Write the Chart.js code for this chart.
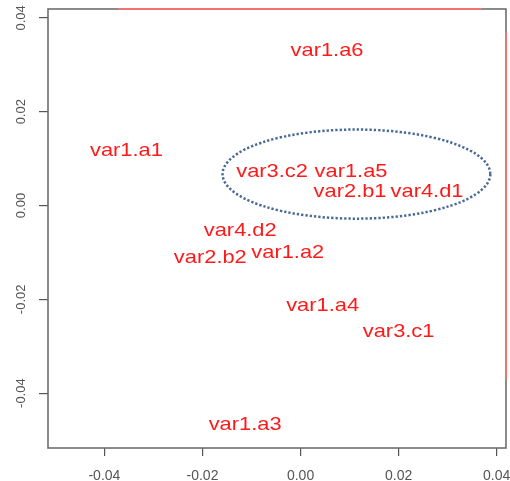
<!DOCTYPE html>
<html>
<head>
<meta charset="utf-8">
<script src="https://cdn.jsdelivr.net/npm/chart.js@4/dist/chart.umd.min.js"></script>
<style>
  html, body { margin: 0; padding: 0; background: #fff; }
  canvas { display: block; }
</style>
</head>
<body>
<canvas id="chart" width="510" height="481"></canvas>
<script>
// points (text labels placed at each coordinate)
const labels = ["var1.a6", "var1.a1", "var3.c2", "var1.a5", "var2.b1", "var4.d1",
                "var4.d2", "var2.b2", "var1.a2", "var1.a4", "var3.c1", "var1.a3"];
const xVals = [0.0054, -0.0355, -0.0058, 0.0103, 0.0101, 0.0258,
               -0.0123, -0.0184, -0.0026, 0.0045, 0.0200, -0.0113];
const yVals = [0.0332, 0.0118, 0.0074, 0.0074, 0.0031, 0.0031,
               -0.0052, -0.0109, -0.0098, -0.0212, -0.0266, -0.0466];

// axis ranges and ticks
const xRange = [-0.0515, 0.0419];
const yRange = [-0.0517, 0.0419];
const xTicks = [-0.04, -0.02, 0.00, 0.02, 0.04];
const yTicks = [-0.04, -0.02, 0.00, 0.02, 0.04];

// red segments along the top and right edges
const topLineX = [-0.0372, 0.0370];
const rightLineY = [0.0369, -0.0371];

// dotted ellipse: centre x, centre y, radius x, radius y
const ellipse = [0.0114, 0.0067, 0.0273, 0.0095];

const FONT = "'Liberation Sans', Arial, sans-serif";

const points = xVals.map((x, i) => ({ x, y: yVals[i] }));

// grey frame round the plot area
const boxPlugin = {
  id: "box",
  beforeDatasetsDraw(chart) {
    const { ctx, chartArea: a } = chart;
    ctx.save();
    ctx.strokeStyle = "#6e6e6e";
    ctx.lineWidth = 1.6;
    ctx.strokeRect(a.left, a.top, a.right - a.left, a.bottom - a.top);
    ctx.restore();
  }
};

// labels + ellipse
const textPlugin = {
  id: "textLabels",
  afterDatasetsDraw(chart) {
    const { ctx } = chart;
    const xs = chart.scales.x, ys = chart.scales.y;

    // ellipse
    const cx = xs.getPixelForValue(ellipse[0]);
    const cy = ys.getPixelForValue(ellipse[1]);
    const rx = Math.abs(xs.getPixelForValue(ellipse[0] + ellipse[2]) - cx);
    const ry = Math.abs(ys.getPixelForValue(ellipse[1] + ellipse[3]) - cy);
    ctx.save();
    ctx.strokeStyle = "#4a6a96";
    ctx.lineWidth = 2.5;
    ctx.lineCap = "butt";
    ctx.setLineDash([2.3, 2.0]);
    ctx.beginPath();
    ctx.ellipse(cx, cy, rx, ry, 0, 0, Math.PI * 2);
    ctx.stroke();
    ctx.restore();

    // text
    const meta = chart.getDatasetMeta(0);
    ctx.save();
    ctx.fillStyle = "#ff1a1a";
    ctx.font = "19px " + FONT;
    ctx.textAlign = "center";
    ctx.textBaseline = "middle";
    meta.data.forEach((el, i) => {
      ctx.save();
      ctx.translate(el.x, el.y);
      ctx.scale(1.15, 1);
      ctx.fillText(labels[i], 0, 1);
      ctx.restore();
    });
    ctx.restore();
  }
};

new Chart(document.getElementById("chart").getContext("2d"), {
  type: "scatter",
  data: {
    datasets: [
      { data: points, pointRadius: 0, pointHoverRadius: 0, showLine: false },
      {
        type: "line",
        data: topLineX.map(x => ({ x, y: yRange[1] })),
        borderColor: "#f07272", borderWidth: 2, pointRadius: 0, clip: false
      },
      {
        type: "line",
        data: rightLineY.map(y => ({ x: xRange[1], y })),
        borderColor: "#f07272", borderWidth: 2, pointRadius: 0, clip: false
      }
    ]
  },
  options: {
    responsive: false,
    animation: false,
    layout: { padding: { top: 9, right: 4, left: 0, bottom: 0 } },
    plugins: { legend: { display: false }, tooltip: { enabled: false } },
    scales: {
      x: {
        type: "linear",
        min: xRange[0], max: xRange[1],
        afterBuildTicks: (s) => { s.ticks = xTicks.map(v => ({ value: v })); },
        afterFit: (s) => { s.height = 33; s.paddingLeft = 0; s.paddingRight = 0; },
        border: { display: false },
        grid: { drawOnChartArea: false, drawTicks: true, tickLength: 8, tickColor: "#555", lineWidth: 1.2 },
        ticks: {
          color: "#555", padding: 12, maxRotation: 0, minRotation: 0,
          font: { family: FONT, size: 14 },
          callback: (v) => Number(v).toFixed(2)
        }
      },
      y: {
        type: "linear",
        min: yRange[0], max: yRange[1],
        afterBuildTicks: (s) => { s.ticks = yTicks.map(v => ({ value: v })); },
        afterFit: (s) => { s.width = 48; s.paddingTop = 0; s.paddingBottom = 0; },
        border: { display: false },
        grid: { drawOnChartArea: false, drawTicks: true, tickLength: 9, tickColor: "#555", lineWidth: 1.2 },
        ticks: {
          color: "#555", padding: 3, minRotation: 90, maxRotation: 90, crossAlign: "center",
          font: { family: FONT, size: 13 },
          callback: (v) => Number(v).toFixed(2)
        }
      }
    }
  },
  plugins: [boxPlugin, textPlugin]
});
</script>
</body>
</html>
